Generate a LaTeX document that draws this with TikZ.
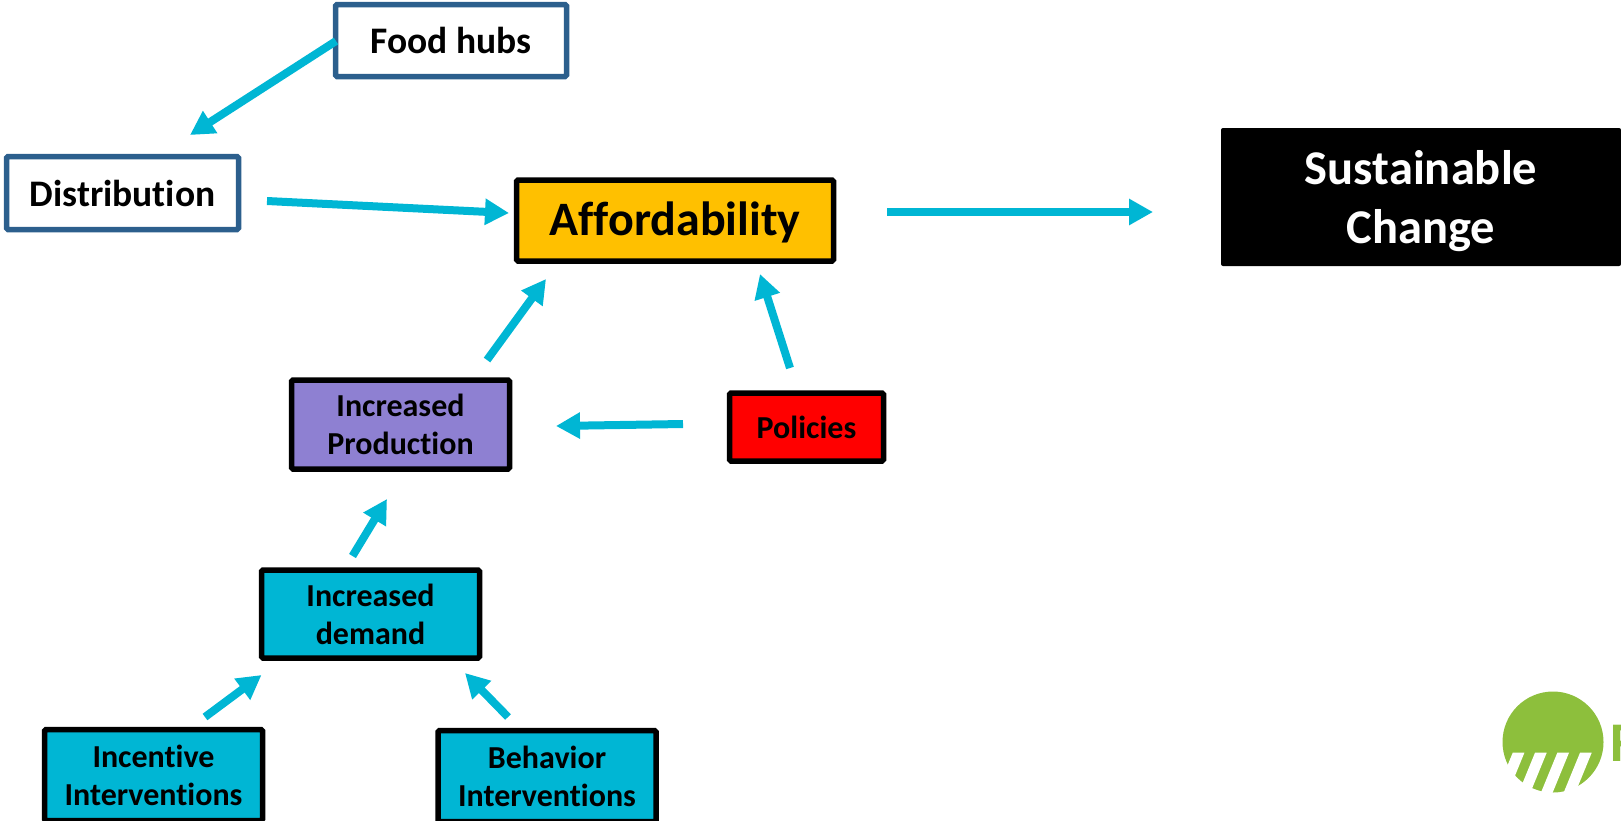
\documentclass[tikz,border=0pt]{standalone}
\usepackage{fontspec}
\setmainfont[Ligatures=CommonOff]{Carlito}
\usetikzlibrary{arrows.meta}
\definecolor{arrowcyan}{HTML}{00B6D4}
\definecolor{boxblue}{HTML}{2C5F8D}
\definecolor{boxamber}{HTML}{FFC000}
\definecolor{boxpurple}{HTML}{8E80D2}
\definecolor{logogreen}{HTML}{8DBF3C}
\tikzset{
  flowbox/.style={rectangle,rounded corners=1.5pt,line width=5.5pt,inner sep=0pt,align=center,font=\bfseries\fontsize{32}{38}\selectfont},
  blackbox/.style={flowbox,draw=black},
  bluebox/.style={flowbox,draw=boxblue,fill=white,font=\bfseries\fontsize{37.5}{44}\selectfont},
  cyanbox/.style={blackbox,fill=arrowcyan},
  flow/.style={draw=arrowcyan,line width=8pt,-{Triangle[length=24pt,width=25pt]}},
  whitestripe/.style={fill=white,draw=none}
}
\begin{document}
\begin{tikzpicture}[x=1pt,y=-1pt]
\useasboundingbox (0,0) rectangle (1621,820);
\node[bluebox,minimum width=231pt,minimum height=72pt] (food) at (451,40.5) {Food hubs};
\node[bluebox,minimum width=232pt,minimum height=73pt,text depth=-2pt] (dist) at (122.5,193) {Distribution};
\node[blackbox,fill=boxamber,minimum width=317pt,minimum height=81pt,text depth=3pt,font=\bfseries\fontsize{48}{54}\selectfont] (aff) at (675,220.5) {Affordability};
\node[rectangle,rounded corners=2pt,fill=black,text=white,inner sep=0pt,align=center,minimum width=400pt,minimum height=138pt,text depth=-2pt,font=\bfseries\fontsize{48.5}{59}\selectfont] (sust) at (1421,197) {Sustainable\\Change};
\node[blackbox,fill=boxpurple,minimum width=218pt,minimum height=89pt,text depth=-4pt] (prod) at (400.5,424.5) {Increased\\Production};
\node[blackbox,fill=red,minimum width=154pt,minimum height=68pt,text depth=-2pt] (pol) at (806.5,427) {Policies};
\node[cyanbox,minimum width=218pt,minimum height=88pt,text depth=-3pt] (dem) at (370.5,614) {Increased\\demand};
\node[cyanbox,minimum width=218pt,minimum height=91pt] (inc) at (153.5,775) {Incentive\\Interventions};
\node[cyanbox,minimum width=218pt,minimum height=91pt] (beh) at (547,776) {Behavior\\Interventions};

\coordinate (a1s) at (336,41);    \coordinate (a1e) at (190,135);
\coordinate (a2s) at (267,201);   \coordinate (a2e) at (509,213);
\coordinate (a3s) at (887,212);   \coordinate (a3e) at (1153,212);
\coordinate (a4s) at (487,360);   \coordinate (a4e) at (546,279);
\coordinate (a5s) at (790,368);   \coordinate (a5e) at (760,274);
\coordinate (a6s) at (683,424);   \coordinate (a6e) at (556,426);
\coordinate (a7s) at (352.5,556); \coordinate (a7e) at (387,499);
\coordinate (a8s) at (205,717);   \coordinate (a8e) at (261.5,675);
\coordinate (a9s) at (508,717);   \coordinate (a9e) at (465,673);
\foreach \i in {1,...,9} {\draw[flow] (a\i s) -- (a\i e);}

% logo
\fill[logogreen] (1553,742) circle (50.5);
\foreach \t in {1512.7,1535,1557.3,1580}
  \fill[whitestripe] (\t,752.7) -- ({\t+11.7},752.7) -- ({\t+11.7-19.4},800) -- ({\t-19.4},800) -- cycle;
\node[anchor=west,inner sep=0pt,text=logogreen,font=\bfseries\fontsize{56}{60}\selectfont] (logoF) at (1610,743) {F};
\end{tikzpicture}
\end{document}
